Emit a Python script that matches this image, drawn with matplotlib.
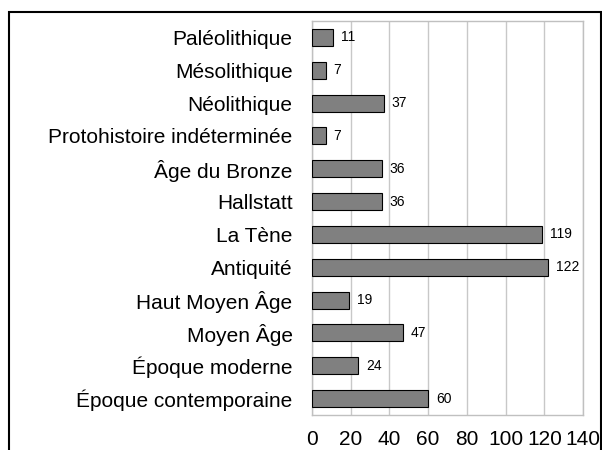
import matplotlib.pyplot as plt
from matplotlib.patches import Rectangle

plt.rcParams['font.family'] = ['Liberation Sans', 'DejaVu Sans']

periodes = ['Paléolithique', 'Mésolithique', 'Néolithique', 'Protohistoire indéterminée',
            'Âge du Bronze', 'Hallstatt', 'La Tène', 'Antiquité', 'Haut Moyen Âge',
            'Moyen Âge', 'Époque moderne', 'Époque contemporaine']
nombres = [11, 7, 37, 7, 36, 36, 119, 122, 19, 47, 24, 60]
graduations = [0, 20, 40, 60, 80, 100, 120, 140]

fig = plt.figure(figsize=(6.02, 4.5), dpi=100)
ax = fig.add_axes([0.5183, 0.0778, 0.4502, 0.8756])

pos = list(range(len(periodes)))
ax.barh(pos, nombres, height=0.52, color='#808080', edgecolor='black', linewidth=0.8, zorder=3)

for y, v in zip(pos, nombres):
    ax.text(v + 4, y, str(v), va='center', ha='left', fontsize=10)

ax.set_xlim(0, 140)
ax.set_ylim(len(periodes) - 0.5, -0.5)
ax.set_xticks(graduations)
ax.set_yticks(pos)
ax.set_yticklabels(periodes)
ax.tick_params(axis='both', length=0, labelsize=15)
ax.tick_params(axis='y', pad=14)
ax.tick_params(axis='x', pad=11)
ax.xaxis.grid(True, color='#c8c8c8', linewidth=1, zorder=0)
for s in ax.spines.values():
    s.set_color('#c0c0c0')
    s.set_linewidth(1)

# cadre autour du graphique
fig.patches.append(Rectangle((9 / 602, -0.05), 592 / 602, 1 - 12 / 450 + 0.05,
                             transform=fig.transFigure, fill=False,
                             edgecolor='black', linewidth=1.5))

fig.savefig('out.png', dpi=100)
